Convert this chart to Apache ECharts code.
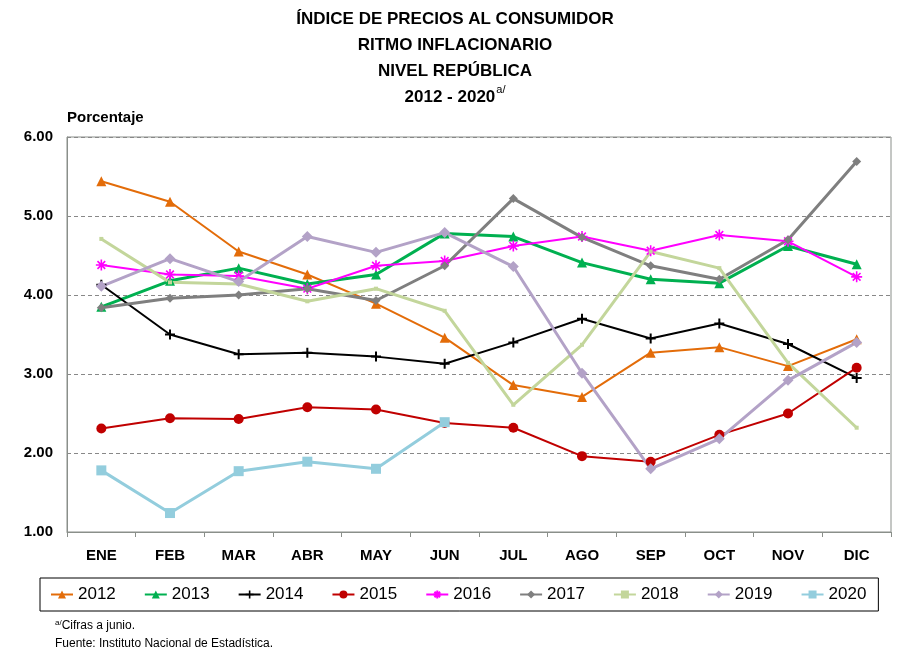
<!DOCTYPE html>
<html><head><meta charset="utf-8">
<script src="https://cdn.jsdelivr.net/npm/echarts@6/dist/echarts.min.js"></script>
<style>html,body{margin:0;padding:0;background:#fff}#c{width:910px;height:661px}</style>
</head><body><div id="c"></div>
<script>
const months = ['ENE','FEB','MAR','ABR','MAY','JUN','JUL','AGO','SEP','OCT','NOV','DIC'];
const yearNames = ['2012','2013','2014','2015','2016','2017','2018','2019','2020'];
const v2012 = [5.44,5.18,4.55,4.26,3.89,3.46,2.86,2.71,3.27,3.34,3.10,3.44];
const v2013 = [3.85,4.18,4.34,4.14,4.26,4.78,4.74,4.41,4.20,4.15,4.62,4.39];
const v2014 = [4.13,3.50,3.25,3.27,3.22,3.13,3.40,3.70,3.45,3.64,3.38,2.95];
const v2015 = [2.31,2.44,2.43,2.58,2.55,2.38,2.32,1.96,1.89,2.23,2.50,3.08];
const v2016 = [4.38,4.26,4.24,4.08,4.37,4.43,4.62,4.74,4.56,4.76,4.68,4.23];
const v2017 = [3.84,3.96,4.00,4.08,3.93,4.37,5.22,4.73,4.37,4.20,4.70,5.69];
const v2018 = [4.71,4.16,4.14,3.92,4.08,3.80,2.61,3.37,4.55,4.34,3.14,2.32];
const v2019 = [4.11,4.46,4.17,4.74,4.54,4.79,4.36,3.01,1.80,2.18,2.92,3.40];
const v2020 = [1.78,1.24,1.77,1.89,1.80,2.39];
const yTicks = [1,2,3,4,5,6];

const plusPath = 'path://M4,0h2v4h4v2h-4v4h-2v-4h-4v-2h4z';
const starPath = 'path://M5,0L5,10M0,5L10,5M1.5,1.5L8.5,8.5M8.5,1.5L1.5,8.5';
const styles = [
  {data:v2012,color:'#E36C09',w:2,symbol:'triangle',size:10},
  {data:v2013,color:'#00B050',w:3,symbol:'triangle',size:10},
  {data:v2014,color:'#000000',w:2,symbol:plusPath,size:10},
  {data:v2015,color:'#C00000',w:2,symbol:'circle',size:10},
  {data:v2016,color:'#FF00FF',w:2,symbol:starPath,size:11,stroke:true},
  {data:v2017,color:'#7F7F7F',w:3,symbol:'diamond',size:9},
  {data:v2018,color:'#C3D69B',w:3,symbol:'rect',size:4},
  {data:v2019,color:'#B3A2C7',w:3,symbol:'diamond',size:11},
  {data:v2020,color:'#93CDDD',w:3,symbol:'rect',size:10}
];
const series = styles.map((s,i)=>({
  name: yearNames[i], type:'line', data:s.data, symbol:s.symbol, symbolSize:s.size,
  lineStyle:{color:s.color,width:s.w},
  itemStyle:{color:s.color, borderColor:s.color, borderWidth: s.stroke?1.6:0},
  emphasis:{disabled:true}, animation:false
}));
const font = '"Liberation Sans",Arial,sans-serif';
const chart = echarts.init(document.getElementById('c'));
chart.setOption({
  backgroundColor:'#fff',
  animation:false,
  title:{
    text:'ÍNDICE DE PRECIOS AL CONSUMIDOR\nRITMO INFLACIONARIO\nNIVEL REPÚBLICA\n2012 - 2020{sup|a/}',
    left:'center', top:1,
    textStyle:{fontFamily:font,fontSize:17,fontWeight:'bold',color:'#000',lineHeight:26,
      rich:{sup:{fontSize:11,fontWeight:'normal',verticalAlign:'top',lineHeight:26,padding:[0,0,10,1],fontFamily:font}}}
  },
  grid:{left:67,right:19,top:137,bottom:129,show:true,borderColor:'#8a8f8a',borderWidth:1},
  legend:{
    data:yearNames, left:40, top:578, width:880,
    borderColor:'#000', borderWidth:1, padding:[8,12,8,10],
    itemWidth:22, itemHeight:10, itemGap:28,
    textStyle:{fontFamily:font,fontSize:17,color:'#000'}
  },
  xAxis:{type:'category',data:months,boundaryGap:true,
    axisLine:{lineStyle:{color:'#8a8f8a'}},
    axisTick:{show:true,length:5,lineStyle:{color:'#8a8f8a'}},
    axisLabel:{fontFamily:font,fontSize:15,fontWeight:'bold',color:'#000',margin:16}
  },
  yAxis:{type:'value',min:yTicks[0],max:yTicks[yTicks.length-1],interval:1,
    name:'Porcentaje', nameLocation:'end', nameGap:12,
    nameTextStyle:{fontFamily:font,fontSize:15,fontWeight:'bold',color:'#000',align:'left',padding:[0,0,0,0]},
    axisLine:{show:true,lineStyle:{color:'#8a8f8a'}},
    axisTick:{show:false},
    axisLabel:{fontFamily:font,fontSize:15,fontWeight:'bold',color:'#000',margin:14,formatter:v=>v.toFixed(2)},
    splitLine:{show:true,lineStyle:{color:'#888',type:[4,3]}}
  },
  graphic:[
    {type:'text',left:55,top:619,style:{text:'{s|a/}Cifras a junio.',fontFamily:font,fontSize:12,fill:'#000',
      rich:{s:{fontSize:8,verticalAlign:'top',padding:[0,0,6,0]}}}},
    {type:'text',left:55,top:638,style:{text:'Fuente: Instituto Nacional de Estadística.',fontFamily:font,fontSize:12,fill:'#000'}}
  ],
  series:series
});
</script></body></html>
